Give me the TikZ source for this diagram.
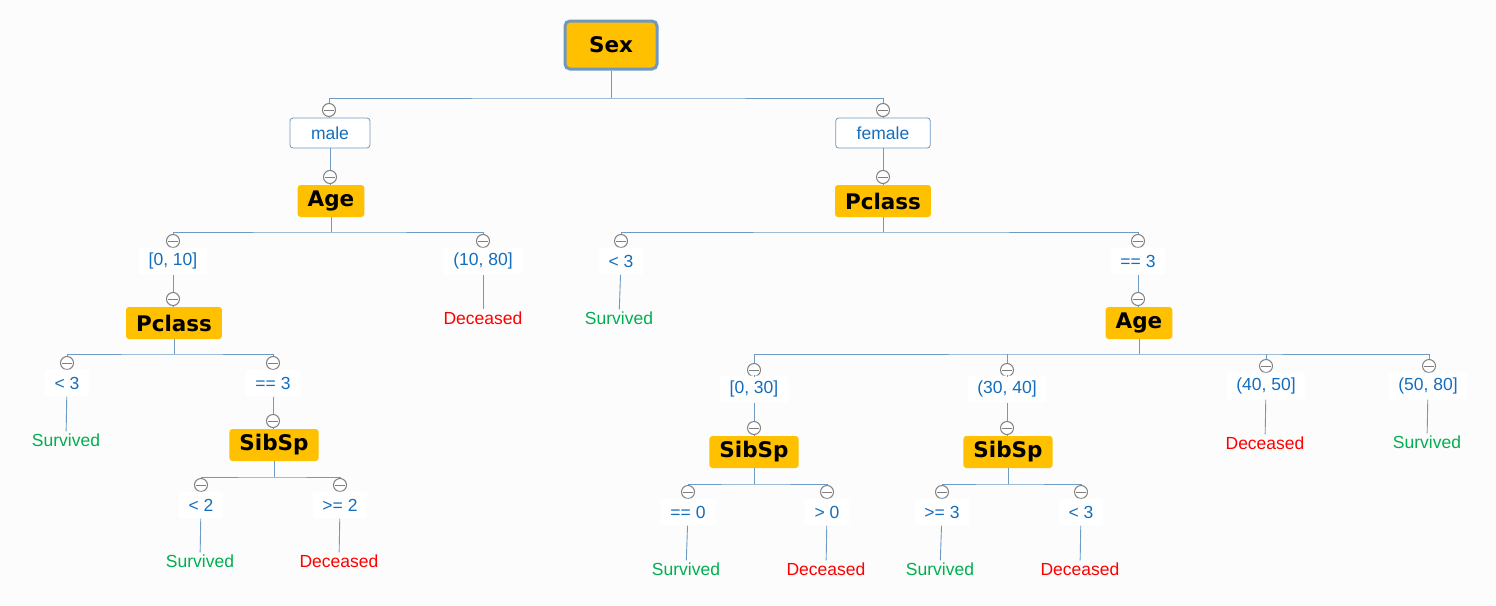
\documentclass[tikz,border=0pt]{standalone}
\usepackage{fontspec}
\setmainfont{Liberation Sans}
\newfontfamily\splitfont{DejaVu Sans}
\begin{document}
\begin{tikzpicture}[x=1pt,y=-1pt]
\definecolor{bgcolor}{RGB}{252,252,252}
\definecolor{splitcolor}{RGB}{255,192,0}
\definecolor{rootcolor}{RGB}{112,152,190}
\definecolor{linecolor}{RGB}{110,155,195}
\definecolor{knobcolor}{RGB}{128,128,128}
\definecolor{condcolor}{RGB}{20,110,190}
\definecolor{survcolor}{RGB}{0,176,80}
\definecolor{deccolor}{RGB}{255,0,0}
\tikzstyle{split}=[fill=splitcolor,rounded corners=3pt,minimum height=32pt,inner xsep=10pt,font=\splitfont\bfseries\fontsize{21.5}{25}\selectfont]
\tikzstyle{rootnode}=[split,draw=rootcolor,line width=3pt,minimum width=92pt,minimum height=48pt,rounded corners=5pt]
\tikzstyle{cond}=[fill=white,rounded corners=3pt,minimum height=27pt,inner xsep=10pt,text=condcolor,font=\fontsize{17.5}{21}\selectfont]
\tikzstyle{sexcond}=[cond,draw=linecolor,line width=0.8pt,minimum height=30pt,inner xsep=21pt]
\tikzstyle{knob}=[circle,draw=knobcolor,fill=white,line width=1pt,minimum size=13pt,inner sep=0pt,path picture={\draw[knobcolor,line width=1pt] ([xshift=1.5pt]path picture bounding box.west) -- ([xshift=-1.5pt]path picture bounding box.east);}]
\tikzstyle{survived}=[text=survcolor,font=\fontsize{17.5}{21}\selectfont,inner sep=2pt]
\tikzstyle{deceased}=[survived,text=deccolor]
\tikzstyle{edge}=[draw=linecolor,line width=0.9pt]
\fill[bgcolor] (0,0) rectangle (1496,605);
% root and first split
\node[rootnode] (sex) at (611,45) {Sex};
\node[knob] (kmale) at (329,110) {};
\node[sexcond] (male) at (330,133) {male};
\node[knob] (kage1) at (330,177) {};
\node[split] (age1) at (331,201) {Age};
\node[knob] (kfemale) at (883,110) {};
\node[sexcond] (female) at (883,133) {female};
\node[knob] (kpcl2) at (883,177) {};
\node[split] (pcl2) at (883,201) {Pclass};
% male side
\node[knob] (k010) at (173,241) {};
\node[cond] (c010) at (173,261) {[0, 10]};
\node[knob] (kpcl1) at (173,299) {};
\node[split] (pcl1) at (174,323) {Pclass};
\node[knob] (k1080) at (483,241) {};
\node[cond] (c1080) at (483,261) {(10, 80]};
\node[deceased] (l1080) at (483,318) {Deceased};
\node[knob] (kplt) at (67,363) {};
\node[cond] (cplt) at (67,383) {< 3};
\node[survived] (lplt) at (66,440) {Survived};
\node[knob] (kpeq) at (273,363) {};
\node[cond] (cpeq) at (273,383) {== 3};
\node[knob] (ksib1) at (273,421) {};
\node[split] (sib1) at (274,445) {SibSp};
\node[knob] (klt2) at (201,485) {};
\node[cond] (clt2) at (201,505) {< 2};
\node[survived] (llt2) at (200,561) {Survived};
\node[knob] (kge2) at (340,485) {};
\node[cond] (cge2) at (340,505) {>= 2};
\node[deceased] (lge2) at (339,561) {Deceased};
% female side
\node[knob] (kqlt) at (621,241) {};
\node[cond] (cqlt) at (621,261) {< 3};
\node[survived] (lqlt) at (619,318) {Survived};
\node[knob] (kqeq) at (1138,241) {};
\node[cond] (cqeq) at (1138,261) {== 3};
\node[knob] (kage2) at (1138,299) {};
\node[split] (age2) at (1139,323) {Age};
\node[knob] (k030) at (754,370) {};
\node[cond] (c030) at (754,389) {[0, 30]};
\node[knob] (ksib2) at (754,428) {};
\node[split] (sib2) at (754,452) {SibSp};
\node[knob] (k3040) at (1007,370) {};
\node[cond] (c3040) at (1007,389) {(30, 40]};
\node[knob] (ksib3) at (1007,428) {};
\node[split] (sib3) at (1008,452) {SibSp};
\node[knob] (k4050) at (1266,366) {};
\node[cond] (c4050) at (1266,386) {(40, 50]};
\node[deceased] (l4050) at (1265,443) {Deceased};
\node[knob] (k5080) at (1429,366) {};
\node[cond] (c5080) at (1428,386) {(50, 80]};
\node[survived] (l5080) at (1427,442) {Survived};
\node[knob] (ks20) at (688,492) {};
\node[cond] (cs20) at (688,512) {== 0};
\node[survived] (ls20) at (686,569) {Survived};
\node[knob] (ks2g) at (827,492) {};
\node[cond] (cs2g) at (827,512) {> 0};
\node[deceased] (ls2g) at (826,569) {Deceased};
\node[knob] (ks3a) at (942,492) {};
\node[cond] (cs3a) at (942,512) {>= 3};
\node[survived] (ls3a) at (940,569) {Survived};
\node[knob] (ks3b) at (1081,492) {};
\node[cond] (cs3b) at (1081,512) {< 3};
\node[deceased] (ls3b) at (1080,569) {Deceased};
% bars
\draw[edge] (sex) -- (611,98);
\draw[edge] (kmale) |- (611,98) -| (kfemale);
\draw[edge] (age1) -- (331,232);
\draw[edge] (k010) |- (331,232) -| (k1080);
\draw[edge] (pcl2) -- (883,232);
\draw[edge] (kqlt) |- (883,232) -| (kqeq);
\draw[edge] (pcl1) -- (174,354);
\draw[edge] (kplt) |- (174,354) -| (kpeq);
\draw[edge] (sib1) -- (274,477);
\draw[edge] (klt2) |- (274,477) -| (kge2);
\draw[edge] (age2) -- (1139,354);
\draw[edge] (k030) |- (1139,354) -| (k5080);
\draw[edge] (k3040) -- (1007,354);
\draw[edge] (k4050) -- (1266,354);
\draw[edge] (sib2) -- (754,484);
\draw[edge] (ks20) |- (754,484) -| (ks2g);
\draw[edge] (sib3) -- (1008,484);
\draw[edge] (ks3a) |- (1008,484) -| (ks3b);
% knob to condition to child
\draw[edge] (kmale) -- (male);
\draw[edge] (male) -- (kage1);
\draw[edge] (kage1) -- (age1);
\draw[edge] (kfemale) -- (female);
\draw[edge] (female) -- (kpcl2);
\draw[edge] (kpcl2) -- (pcl2);
\draw[edge] (k010) -- (c010);
\draw[edge] (c010) -- (kpcl1);
\draw[edge] (kpcl1) -- (pcl1);
\draw[edge] (k1080) -- (c1080);
\draw[edge] (c1080) -- (l1080);
\draw[edge] (kplt) -- (cplt);
\draw[edge] (cplt) -- (lplt);
\draw[edge] (kpeq) -- (cpeq);
\draw[edge] (cpeq) -- (ksib1);
\draw[edge] (ksib1) -- (sib1);
\draw[edge] (klt2) -- (clt2);
\draw[edge] (clt2) -- (llt2);
\draw[edge] (kge2) -- (cge2);
\draw[edge] (cge2) -- (lge2);
\draw[edge] (kqlt) -- (cqlt);
\draw[edge] (cqlt) -- (lqlt);
\draw[edge] (kqeq) -- (cqeq);
\draw[edge] (cqeq) -- (kage2);
\draw[edge] (kage2) -- (age2);
\draw[edge] (k030) -- (c030);
\draw[edge] (c030) -- (ksib2);
\draw[edge] (ksib2) -- (sib2);
\draw[edge] (k3040) -- (c3040);
\draw[edge] (c3040) -- (ksib3);
\draw[edge] (ksib3) -- (sib3);
\draw[edge] (k4050) -- (c4050);
\draw[edge] (c4050) -- (l4050);
\draw[edge] (k5080) -- (c5080);
\draw[edge] (c5080) -- (l5080);
\draw[edge] (ks20) -- (cs20);
\draw[edge] (cs20) -- (ls20);
\draw[edge] (ks2g) -- (cs2g);
\draw[edge] (cs2g) -- (ls2g);
\draw[edge] (ks3a) -- (cs3a);
\draw[edge] (cs3a) -- (ls3a);
\draw[edge] (ks3b) -- (cs3b);
\draw[edge] (cs3b) -- (ls3b);
\end{tikzpicture}
\end{document}
